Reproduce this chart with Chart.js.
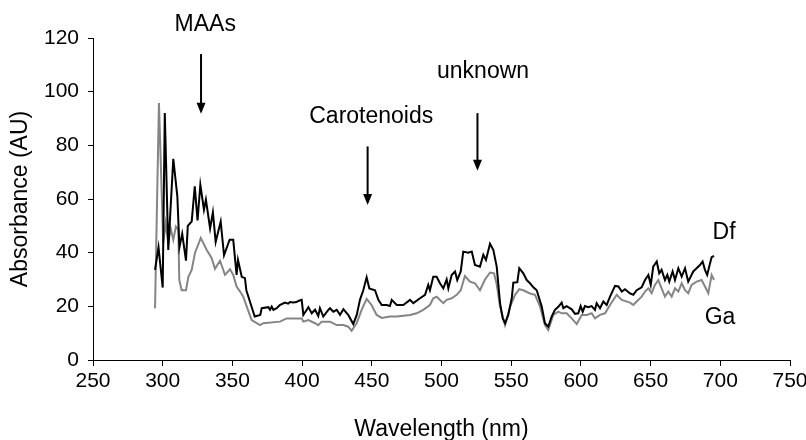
<!DOCTYPE html>
<html>
<head>
<meta charset="utf-8">
<script src="https://cdn.jsdelivr.net/npm/chart.js@4/dist/chart.umd.min.js"></script>
<style>
  html, body { margin: 0; padding: 0; background: #fff; }
  #wrap { width: 806px; height: 440px; }
</style>
</head>
<body>
<div id="wrap"><canvas id="c" width="806" height="440"></canvas></div>
<script>
// Wavelength (nm) and absorbance (AU) readings, Df series
const dfWavelength = [294.5,297,300,301.5,304,307.6,310.5,312,314,316.7,318,320.8,323,325,327,329.6,331,334,336,338,341.6,344,348,350.6,353,354,356.7,359,360,366,370,371,
  375.8,377,378.2,379.4,381.8,384,387.7,390,391.3,393.7,396,397.3,399.7,400.9,404.5,406.9,409.3,411.6,412.8,415.2,418.8,
  420,422.4,424.8,427.2,429.6,433.1,436.7,439.2,441.5,443.9,446.3,448.2,452.3,454.7,457.1,460.7,463,464.3,467.9,472.6,477.4,479.8,484.6,488.2,490.5,
  491.7,494.1,496.5,498.9,501.3,503.7,504.9,507.3,509.7,511.3,513.8,515.6,519.2,521.7,524,527.6,530,531.9,534.8,537.2,539.6,542,543.9,545.6,547.9,550.4,551.5,554.4,555.8,558.7,561.1,
  563.5,565.9,568.3,571.9,574.2,576.6,579,581.4,583.8,586.2,587.4,589.8,593.4,595.8,598.1,599.8,601.3,602.9,605.3,607.7,610.1,611.3,613.7,616.1,618.5,620.9,624.5,626.9,629.3,631.6,635.2,
  637.6,640,643.6,646,648.4,650.1,651.9,654.4,656.2,657.9,660.3,662,663.4,665.8,667.5,669.9,672.3,674.7,677,680.6,683,685.4,687.3,689,690.6,692.6,693.8,695.5];
const dfAbsorbance = [33.6,42,27,92,41,75,61,42,47,37,50,51.6,64.7,52,65.3,56,59.7,49,55,44,51.6,39,44.8,44.8,31.7,37.3,31,30.5,26,16.2,16.8,19.3,
  19.7,18.7,19.9,18.7,19.3,20.5,21.4,21,21.6,21.4,21.6,22,22.4,16.8,19.7,17.4,18.7,16.4,19.3,16.2,18.7,
  19.3,18,18.7,16.8,18.9,16.8,13.4,16.8,22.4,26,30.8,26.7,26,22.4,20.5,20.5,20.1,22.4,20.5,20.5,22.4,21.2,23,24.3,28,
  26,31,31,28.6,26.7,30,26.7,31.7,33,29.8,33,40.4,40,40.4,35.4,34.8,39.2,37.3,43.3,41,34.8,21.2,15.5,13.7,16.8,23,28.8,29,34.2,32.3,29.8,
  28.6,27.1,26,19.9,13.7,12.4,16.2,18.7,19.8,21.4,19.3,20.1,18.9,17.2,17.4,20.1,18,20.1,19.7,20.1,18.7,21.2,19.3,21.8,20.5,23.6,27.6,27.4,25.5,26.4,24.8,
  24.3,26,27.1,29.8,31.7,28,34.8,36.7,32.3,33.6,29.8,31.7,29.2,33,29.8,34.2,31.1,34.2,29.2,33,34.2,35.4,36.7,33.6,31.7,36,38.3,38.8];

// Ga series
const gaWavelength = [294.5,297.3,300.4,302.1,304,305.7,307.6,309.5,311.2,311.9,313.6,316.7,318.4,320.8,323.2,327.3,331.6,335.1,337.5,341.1,344.7,348.3,
  350.6,353,355.5,357.8,360.3,363.8,369.8,372.2,384.1,388.9,399.7,400.9,404.5,409.3,411.6,414,420,
  424.8,429.6,433.1,435.5,439.2,442.7,446.3,449.8,453.5,457.1,463,467.9,477.4,482.2,486.9,491.7,
  494.1,496.5,501.3,503.7,507.3,510.9,513.8,516.8,520.4,524,527.6,531.2,534.8,537.7,539.6,542,545.6,549.2,552.8,555.8,558.7,563.5,
  567.1,570.7,574.2,576.6,580.2,583.8,586.2,589.8,593.4,597,600.6,604.2,607.7,610.1,613.7,617.3,620.9,625.7,629.3,635.2,
  637.6,640,643.6,646,648.4,650.8,653.1,655.5,657.9,660.3,662.7,665.1,667.5,669.9,672.3,674.7,677,679.4,683,686.6,689,691.4,693.8,695.5];
const gaAbsorbance = [19.3,95.8,43.6,51,43.5,49.1,44.8,49.7,48.6,29.8,26,26,31,33.6,40,45.5,41,38,34,37,31.7,33.8,
  31.7,27.4,25.5,23.6,19.9,14.9,13,13.7,14.3,15.5,15.5,14.3,14.9,13.7,13,14.3,14.3,
  13,13,12.4,10.9,13.8,18.7,22.8,20.5,16.8,15.7,16.2,16.2,16.8,17.4,18.7,20.5,
  23,23.6,21.2,22.4,23,24.3,26,31.3,29.2,28.6,26,30,32.6,32.3,28.2,19.9,13,19.9,24.3,26.4,26,24.8,
  24.3,19.9,13,11.2,16.8,18,17.4,17.4,15.5,13.4,16.8,16.8,17.4,15.5,16.8,17.4,20.5,24.3,22.4,21.4,
  20.5,21.8,23.6,25.5,26.7,24.9,28,29.8,26.7,23.6,25.5,23.6,26.7,25.5,28.6,26,24.9,28,29.2,29.8,27.4,24.9,31.7,29.8];

const xTicks = [250,300,350,400,450,500,550,600,650,700,750];
const yTicks = [0,20,40,60,80,100,120];

// Annotations (data coordinates)
const labelTexts = ['MAAs','Carotenoids','unknown','Df','Ga'];
const labelX = [330.5, 449.6, 529.8, 702.7, 699.8];
const labelY = [124.8, 90.7, 107.4, 47.4, 15.9];
const arrowX = [327.5, 447, 525.8];
const arrowFrom = [114, 79.6, 92];
const arrowTo = [91.8, 57.8, 70.5];

const FONT = '"Liberation Sans", Arial, Helvetica, sans-serif';

const annot = {
  id: 'annot',
  afterDatasetsDraw(chart) {
    const ctx = chart.ctx, xs = chart.scales.x, ys = chart.scales.y;
    ctx.save();
    ctx.fillStyle = '#000';
    ctx.font = '23px ' + FONT;
    ctx.textAlign = 'center';
    ctx.textBaseline = 'middle';
    labelTexts.forEach((t, i) => {
      ctx.fillText(t, xs.getPixelForValue(labelX[i]), ys.getPixelForValue(labelY[i]));
    });
    ctx.strokeStyle = '#000';
    ctx.lineWidth = 2;
    arrowX.forEach((ax, i) => {
      const px = xs.getPixelForValue(ax);
      const y0 = ys.getPixelForValue(arrowFrom[i]);
      const y1 = ys.getPixelForValue(arrowTo[i]);
      ctx.beginPath();
      ctx.moveTo(px, y0);
      ctx.lineTo(px, y1 - 8);
      ctx.stroke();
      ctx.beginPath();
      ctx.moveTo(px - 4.5, y1 - 11);
      ctx.lineTo(px + 4.5, y1 - 11);
      ctx.lineTo(px, y1);
      ctx.closePath();
      ctx.fill();
    });
    ctx.restore();
  }
};

function pts(xa, ya) { return xa.map((x, i) => ({x: x, y: ya[i]})); }

new Chart(document.getElementById('c'), {
  type: 'line',
  data: {
    datasets: [
      { label: 'Ga', data: pts(gaWavelength, gaAbsorbance), borderColor: '#858585', borderWidth: 2, pointRadius: 0, tension: 0, order: 2 },
      { label: 'Df', data: pts(dfWavelength, dfAbsorbance), borderColor: '#000000', borderWidth: 2, pointRadius: 0, tension: 0, order: 1 }
    ]
  },
  options: {
    responsive: false,
    animation: false,
    devicePixelRatio: 1,
    layout: { padding: { top: 38, right: 16, left: 0, bottom: 0 } },
    plugins: { legend: { display: false }, tooltip: { enabled: false } },
    scales: {
      x: {
        type: 'linear', min: 250, max: 750,
        afterBuildTicks(s) { s.ticks = xTicks.map(v => ({value: v})); },
        afterFit(s) { s.height = 80; s.paddingLeft = 0; s.paddingRight = 0; },
        grid: { drawOnChartArea: false, drawTicks: true, tickLength: 6, color: '#000', tickWidth: 1 },
        border: { color: '#000', width: 1 },
        ticks: { color: '#000', font: { family: FONT, size: 21 }, padding: 3, maxRotation: 0 },
        title: { display: true, text: 'Wavelength (nm)', color: '#000', font: { family: FONT, size: 23 }, padding: { top: 0, bottom: -3 } }
      },
      y: {
        min: 0, max: 120,
        afterBuildTicks(s) { s.ticks = yTicks.map(v => ({value: v})); },
        afterFit(s) { s.width = 93; s.paddingTop = 0; s.paddingBottom = 0; },
        grid: { drawOnChartArea: false, drawTicks: true, tickLength: 5, color: '#000', tickWidth: 1 },
        border: { color: '#000', width: 1 },
        ticks: { color: '#000', font: { family: FONT, size: 21 }, padding: 9 },
        title: { display: true, text: 'Absorbance (AU)', color: '#000', font: { family: FONT, size: 23 }, padding: { top: 7, bottom: 0 } }
      }
    }
  },
  plugins: [annot]
});
</script>
</body>
</html>
